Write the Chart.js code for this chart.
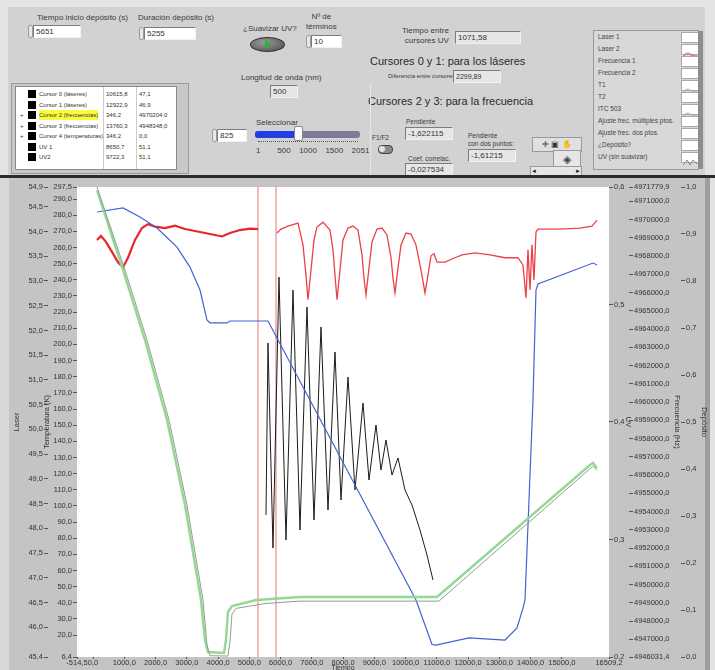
<!DOCTYPE html>
<html>
<head>
<meta charset="utf-8">
<script src="https://cdn.jsdelivr.net/npm/chart.js"></script>
<style>
body { margin:0; width:715px; height:670px; overflow:hidden; background:#e4e4e4; font-family:"Liberation Sans", Arial, sans-serif; color:#333; position:relative; }
.a { position:absolute; white-space:nowrap; }
#panel { left:8px; top:7px; width:697px; height:169px; background:#d2d2d2; }
.l9 { font-size:8px; color:#3a3a3a; }
.l7 { font-size:6.5px; color:#3a3a3a; }
.h { font-size:11px; color:#2a2a2a; }
.box { background:#fff; border:1px solid #7c7c7c; border-right-color:#f2f2f2; border-bottom-color:#f2f2f2; font-size:8px; padding-left:2px; line-height:11px; height:11px; box-sizing:content-box; color:#333; }
.ind { background:#e6e6e6; }
.spin { width:3px; height:11px; border:1px solid #9a9a9a; background:#e8e8e8; border-radius:2px; }
#sep { left:0; top:175px; width:715px; height:3px; background:#2b2b2b; }
#frame { left:0; top:178px; width:715px; height:492px;
  background:linear-gradient(to right, #d8d8d8 0 9px, #c4c4c4 9px 705px, #9e9e9e 705px 710px, #e2e2e2 710px); }
#tbl { left:15px; top:86px; width:160px; height:82px; background:#fff; border:1px solid #8a8a8a; }
.row { position:absolute; left:0; height:10px; font-size:6px; line-height:10px; color:#333; }
.sq { position:absolute; left:12px; top:1px; width:8px; height:8px; background:#000; }
.leg { left:593px; top:30px; width:104px; height:138px; background:#d8d8d8; border:1px solid #9a9a9a; }
.lr { position:absolute; left:4px; font-size:6.5px; line-height:10px; color:#444; }
.lb { position:absolute; left:87px; width:16px; height:9px; background:#fff; border:1px solid #aaa; }
</style>
</head>
<body>
<div id="panel" class="a"></div>

<!-- numeric controls -->
<div class="a l9" style="left:37px;top:13px">Tiempo inicio depósito (s)</div>
<div class="a spin" style="left:28px;top:25px"></div>
<div class="a box" style="left:33px;top:25px;width:44px">5651</div>

<div class="a l9" style="left:138px;top:13px">Duración depósito (s)</div>
<div class="a spin" style="left:139px;top:27px"></div>
<div class="a box" style="left:144px;top:27px;width:48px">5255</div>

<div class="a l9" style="left:243px;top:24px">¿Suavizar UV?</div>
<div class="a" style="left:250px;top:37px;width:33px;height:13px;border-radius:50%;background:radial-gradient(ellipse at 40% 35%, #9a9a9a, #4a4a4a);border:1px solid #333"></div>
<div class="a" style="left:265px;top:40px;width:0;height:0;border-top:4px solid transparent;border-bottom:4px solid transparent;border-left:7px solid #2db52d"></div>

<div class="a l9" style="left:306px;top:12px;text-align:center;line-height:10px">Nº de<br>términos</div>
<div class="a spin" style="left:306px;top:35px"></div>
<div class="a box" style="left:311px;top:35px;width:27px">10</div>

<div class="a l9" style="left:402px;top:26px;text-align:right;line-height:10px">Tiempo entre<br>cursores UV</div>
<div class="a box ind" style="left:455px;top:31px;width:62px">1071,58</div>

<div class="a h" style="left:370px;top:55px">Cursores 0 y 1: para los láseres</div>
<div class="a l7" style="left:388px;top:73px;font-size:6px">Diferencia entre cursores:</div>
<div class="a box ind" style="left:453px;top:70px;width:44px;font-size:7px">2299,89</div>
<div class="a h" style="left:368px;top:95px">Cursores 2 y 3: para la frecuencia</div>
<div class="a" style="left:370px;top:84px;width:1px;height:91px;background:#e6e6e6"></div>

<div class="a l9" style="left:241px;top:73px">Longitud de onda (nm)</div>
<div class="a box ind" style="left:270px;top:85px;width:24px">500</div>

<div class="a l9" style="left:256px;top:118px">Seleccionar</div>
<div class="a" style="left:255px;top:131px;width:105px;height:7px;background:#7c7c98;border-radius:3px"></div>
<div class="a" style="left:255px;top:131px;width:44px;height:7px;background:#1f3fe0;border-radius:3px 0 0 3px"></div>
<div class="a" style="left:294px;top:126px;width:7px;height:13px;background:#fafafa;border:1px solid #888;border-radius:2px"></div>
<div class="a" style="left:258px;top:141px;width:100px;height:2px;border-top:1px dotted #555"></div>
<div class="a l7" style="left:256px;top:146px;font-size:8px;word-spacing:2px">1&nbsp;&nbsp;&nbsp;&nbsp;500&nbsp;&nbsp;1000&nbsp;&nbsp;1500&nbsp;&nbsp;2051</div>
<div class="a spin" style="left:212px;top:129px"></div>
<div class="a box" style="left:217px;top:129px;width:26px">825</div>

<div class="a l7" style="left:372px;top:134px">F1/F2</div>
<div class="a" style="left:378px;top:145px;width:13px;height:7px;background:#8a8a8a;border:1px solid #444;border-radius:4px"></div>
<div class="a" style="left:379px;top:146px;width:6px;height:6px;background:#e4e4e4;border-radius:50%"></div>

<div class="a l7" style="left:406px;top:118px">Pendiente</div>
<div class="a box ind" style="left:405px;top:127px;width:44px">-1,622115</div>
<div class="a l7" style="left:408px;top:155px">Coef. correlac.</div>
<div class="a box ind" style="left:405px;top:163px;width:44px">-0,027534</div>
<div class="a l7" style="left:468px;top:132px;line-height:8px">Pendiente<br>con dos puntos:</div>
<div class="a box ind" style="left:468px;top:149px;width:44px">-1,61215</div>

<!-- graph palette -->
<div class="a" style="left:532px;top:137px;width:48px;height:13px;background:#e0e0e0;border:1px solid #999;font-size:8px;line-height:13px;text-align:center;color:#333">✛ ▣ ✋</div>
<div class="a" style="left:553px;top:150px;width:26px;height:16px;background:#e6e6e6;border:1px solid #999;font-size:11px;line-height:16px;text-align:center;color:#444">◈</div>
<div class="a" style="left:530px;top:166px;width:50px;height:8px;background:#e6e6e6;border:1px solid #999;font-size:6px;line-height:8px;color:#222">◄<span style="float:right">►</span></div>

<!-- legend -->
<div class="a leg">
  <div class="lr" style="top:1px">Laser 1</div>
  <div class="lr" style="top:13px">Laser 2</div>
  <div class="lr" style="top:25px">Frecuencia 1</div>
  <div class="lr" style="top:37px">Frecuencia 2</div>
  <div class="lr" style="top:49px">T1</div>
  <div class="lr" style="top:61px">T2</div>
  <div class="lr" style="top:73px">ITC 503</div>
  <div class="lr" style="top:85px">Ajuste frec. múltiples ptos.</div>
  <div class="lr" style="top:97px">Ajuste frec. dos ptos.</div>
  <div class="lr" style="top:109px">¿Depósito?</div>
  <div class="lr" style="top:121px">UV (sin suavizar)</div>
  <div class="lb" style="top:1px"></div>
  <div class="lb" style="top:13px"><svg width="16" height="9"><path d="M1 7 Q5 1 8 4 T15 6" stroke="#e44" fill="none"/></svg></div>
  <div class="lb" style="top:25px"></div>
  <div class="lb" style="top:37px"></div>
  <div class="lb" style="top:49px"><svg width="16" height="9"><path d="M1 7 Q5 1 8 4 T15 6" stroke="#aaa" fill="none"/></svg></div>
  <div class="lb" style="top:61px"></div>
  <div class="lb" style="top:73px"><svg width="16" height="9"><path d="M1 7 Q5 1 8 4 T15 6" stroke="#aaa" fill="none"/></svg></div>
  <div class="lb" style="top:85px"></div>
  <div class="lb" style="top:97px"></div>
  <div class="lb" style="top:109px"></div>
  <div class="lb" style="top:121px"><svg width="16" height="9"><path d="M1 7 L5 2 L8 7 L11 2 L15 6" stroke="#888" fill="none"/></svg></div>
  <div style="position:absolute;left:104px;top:0;width:5px;height:138px;background:#8e8e8e"></div>
</div>

<!-- cursor table -->
<div class="a" style="left:11px;top:83px;width:176px;height:89px;background:#c8c8c8;border:1px solid #999"></div>
<div class="a" id="tbl">
  <div style="position:absolute;left:87px;top:0;width:1px;height:82px;background:#ccc"></div>
  <div style="position:absolute;left:120px;top:0;width:1px;height:82px;background:#ccc"></div>
  <div class="row" style="top:2px;width:160px"><div class="sq"></div><span style="position:absolute;left:23px">Cursor 0 (láseres)</span><span style="position:absolute;left:90px">10615,8</span><span style="position:absolute;left:123px">47,1</span></div>
  <div class="row" style="top:12.5px;width:160px"><div class="sq"></div><span style="position:absolute;left:23px">Cursor 1 (láseres)</span><span style="position:absolute;left:90px">12922,9</span><span style="position:absolute;left:123px">46,9</span></div>
  <div class="row" style="top:23px;width:160px"><span style="position:absolute;left:4px">+</span><div class="sq"></div><span style="position:absolute;left:23px;background:#fbfb3a">Cursor 2 (frecuencias)</span><span style="position:absolute;left:90px">346,2</span><span style="position:absolute;left:123px">4970204,0</span></div>
  <div class="row" style="top:33.5px;width:160px"><span style="position:absolute;left:4px">+</span><div class="sq"></div><span style="position:absolute;left:23px">Cursor 3 (frecuencias)</span><span style="position:absolute;left:90px">13760,3</span><span style="position:absolute;left:123px">4948348,0</span></div>
  <div class="row" style="top:44px;width:160px"><span style="position:absolute;left:4px">+</span><div class="sq"></div><span style="position:absolute;left:23px">Cursor 4 (temperaturas)</span><span style="position:absolute;left:90px">346,2</span><span style="position:absolute;left:123px">0,0</span></div>
  <div class="row" style="top:54.5px;width:160px"><div class="sq"></div><span style="position:absolute;left:23px">UV 1</span><span style="position:absolute;left:90px">8650,7</span><span style="position:absolute;left:123px">51,1</span></div>
  <div class="row" style="top:65px;width:160px"><div class="sq"></div><span style="position:absolute;left:23px">UV2</span><span style="position:absolute;left:90px">9722,3</span><span style="position:absolute;left:123px">51,1</span></div>
</div>

<div id="sep" class="a"></div>
<div id="frame" class="a"><canvas id="myChart" width="715" height="492"></canvas></div>

<script>
// ---- data (time in s) ----
const redBefore = [[125,53.83],[253,53.91],[413,53.79],[605,53.59],[797,53.38],[957,53.28],[1117,53.47],[1341,53.83],
  [1565,54.07],[1757,54.15],[1981,54.10],[2301,54.07],[2621,54.12],[2941,54.05],[3261,54.01],[3581,53.97],[3901,53.93],
  [4125,53.90],[4381,53.97],[4701,54.03],[5021,54.06],[5277,54.05]];
const redAfter = [[5885,53.97],[6013,54.05],[6237,54.11],[6557,54.17],[6717,53.73],[6813,53.12],[6877,52.62],[6973,53.22],
  [7069,53.83],[7165,54.09],[7357,54.19],[7581,54.03],[7677,53.63],[7741,53.12],[7805,52.62],[7901,53.22],[7997,53.83],
  [8157,54.07],[8317,54.11],[8477,54.03],[8605,53.53],[8669,53.06],[8733,52.72],[8829,53.26],[8925,53.79],[9085,54.05],
  [9245,54.07],[9405,53.93],[9533,53.47],[9597,53.06],[9661,52.76],[9757,53.26],[9853,53.73],[10013,53.97],[10173,53.95],
  [10333,53.73],[10493,53.22],[10621,52.76],[10717,53.12],[10813,53.51],[10909,53.55],[11005,53.38],[11261,53.38],
  [11581,53.47],[11805,53.53],[12221,53.57],[12701,53.53],[13181,53.47],[13597,53.47],[13757,53.32],[13853,52.66],
  [13917,53.63],[13981,52.82],[14045,53.73],[14109,53.02],[14173,53.99],[14237,54.05],[14941,54.05],[15581,54.07],
  [15965,54.11],[16125,54.23]];
const tempT2 = [[130,282.0],[957,284.5],[1501,278.9],[2045,272.1],[2685,260.3],[3101,247.9],[3421,233.7],[3645,215.1],
  [3741,213.3],[4285,213.3],[4381,214.5],[5597,214.5],[10333,41.7],[10845,14.1],[10973,13.8],[12029,18.2],[13181,16.9],
  [13565,24.4],[13757,36.7],[13821,41.7],[14077,165.6],[14173,233.7],[14237,237.4],[15997,250.4],[16125,249.2]];
const tempT1 = [[125,295.6],[957,246.1],[1661,202.7],[2365,153.2],[2941,100.5],[3453,41.7],[3581,16.9],[3677,9.5],
  [4189,8.9],[4253,16.9],[4317,34.3],[4445,38.0],[5213,41.7],[6621,43.6],[11005,43.6],[15901,125.3],[15997,126.6],[16125,123.5]];
const tempITC = [[125,297.5],[1020,246.1],[1725,202.7],[2430,153.2],[3005,100.5],[3517,41.7],[3645,14.0],[3741,7.2],
  [4317,7.0],[4381,16.0],[4445,33.0],[4573,36.5],[5500,39.5],[6621,41.0],[11069,41.0],[15901,123.0],[16000,124.5],[16125,122.0]];
const frecuencia = [[5533,4953810],[5597,4963232],[5757,4952002],[5949,4966848],[6173,4952441],[6397,4966135],[6621,4952988],
  [6845,4965204],[7069,4953536],[7293,4964109],[7517,4954084],[7741,4962740],[7933,4954632],[8157,4961370],[8381,4955180],
  [8637,4959945],[8829,4955728],[9053,4958740],[9213,4956275],[9373,4957919],[9565,4956000],[9757,4956933],[9981,4955180],
  [10205,4954358],[10461,4952988],[10685,4951619],[10877,4950249]];
const cursorTimes = [5277, 5853];

// ---- tick labels ----
const timeTicks = [-514.5, 0, 1000, 2000, 3000, 4000, 5000, 6000, 7000, 8000, 9000, 10000, 11000, 12000, 13000, 14000, 15000, 16509.2];
const laserTicks = [45.4, 46.0, 46.5, 47.0, 47.5, 48.0, 48.5, 49.0, 49.5, 50.0, 50.5, 51.0, 51.5, 52.0, 52.5, 53.0, 53.5, 54.0, 54.5, 54.9];
const tempTicks = [6.4, 20, 30, 40, 50, 60, 70, 80, 90, 100, 110, 120, 130, 140, 150, 160, 170, 180, 190, 200, 210, 220, 230, 240, 250, 260, 270, 280, 290, 297.5];
const uvTicks = [0.2, 0.3, 0.4, 0.5, 0.6];
const freqTicks = [4946031.4, 4947000, 4948000, 4949000, 4950000, 4951000, 4952000, 4953000, 4954000, 4955000, 4956000,
  4957000, 4958000, 4959000, 4960000, 4961000, 4962000, 4963000, 4964000, 4965000, 4966000, 4967000, 4968000, 4969000,
  4970000, 4971000, 4971779.9];
const depTicks = [0.0, 0.1, 0.2, 0.3, 0.4, 0.5, 0.6, 0.7, 0.8, 0.9, 1.0];

const pts = arr => arr.map(p => ({x: p[0], y: p[1]}));
const fmt = v => Number(v).toFixed(1).replace('.', ',');
const tickFont = {family: 'Liberation Sans', size: 7.5};
const titleFont = {family: 'Liberation Sans', size: 7.5};

function yAxis(pos, min, max, ticks, title, width, weight, titlePad) {
  return {
    type: 'linear', position: pos, min: min, max: max, weight: weight,
    afterBuildTicks: s => { s.ticks = ticks.map(v => ({value: v})); },
    afterFit: s => { s.width = width; },
    grid: {drawOnChartArea: false, drawTicks: true, tickLength: 4, color: '#555'},
    border: {display: false},
    ticks: {font: tickFont, color: '#333', padding: 1, autoSkip: false, callback: fmt},
    title: {display: true, text: title, font: titleFont, color: '#333', padding: {top: titlePad, bottom: 0}}
  };
}

const plotBg = {
  id: 'plotBg',
  beforeDraw(chart) {
    const {ctx, chartArea: a} = chart;
    ctx.save();
    ctx.fillStyle = '#ffffff';
    ctx.fillRect(a.left, a.top, a.right - a.left, a.bottom - a.top);
    ctx.restore();
  }
};

const line = (data, axis, color, width) => ({
  data: pts(data), yAxisID: axis, borderColor: color, borderWidth: width,
  pointRadius: 0, tension: 0, fill: false
});

const ctx = document.getElementById('myChart');
const myChart = new Chart(ctx, {
  type: 'line',
  data: {
    datasets: [
      line(tempITC, 'yTemp', '#8f9f8f', 1),
      line(tempT1, 'yTemp', '#93d893', 2.4),
      line(tempT2, 'yTemp', '#4262d4', 1.2),
      line(frecuencia, 'yFreq', '#1c1c1c', 1),
      line(redBefore, 'yLaser', '#e6262a', 2.2),
      line(redAfter, 'yLaser', '#ec4145', 1.3),
      line([[cursorTimes[0], 0.2], [cursorTimes[0], 0.6]], 'yUV', '#e57676', 1),
      line([[cursorTimes[1], 0.2], [cursorTimes[1], 0.6]], 'yUV', '#e57676', 1)
    ]
  },
  options: {
    responsive: false,
    animation: false,
    events: [],
    layout: {padding: {left: 8, right: 3, top: 9, bottom: 0}},
    plugins: {legend: {display: false}, tooltip: {enabled: false}},
    scales: {
      x: {
        type: 'linear', position: 'bottom', min: -514.5, max: 16509.2,
        afterBuildTicks: s => { s.ticks = timeTicks.map(v => ({value: v})); },
        afterFit: s => { s.height = 13; },
        grid: {drawOnChartArea: false, drawTicks: true, tickLength: 2, color: '#555'},
        border: {display: false},
        ticks: {font: tickFont, color: '#333', padding: -1, maxRotation: 0, autoSkip: false, callback: fmt},
        title: {display: true, text: 'Tiempo', font: {family: 'Liberation Sans', size: 7}, color: '#333', padding: {top: 0, bottom: -2}}
      },
      yLaser: yAxis('left', 45.4, 54.9, laserTicks, 'Laser', 40, 1, 4.5),
      yTemp: yAxis('left', 6.4, 297.5, tempTicks, 'Temperatura (K)', 29, 0, -5.5),
      yUV: yAxis('right', 0.2, 0.6, uvTicks, 'UV', 20, 0, -3.5),
      yFreq: yAxis('right', 4946031.4, 4971779.9, freqTicks, 'Frecuencia (Hz)', 52, 1, -0.5),
      yDep: yAxis('right', 0.0, 1.0, depTicks, 'Depósito', 31, 2, 3)
    }
  },
  plugins: [plotBg]
});
</script>
</body>
</html>
